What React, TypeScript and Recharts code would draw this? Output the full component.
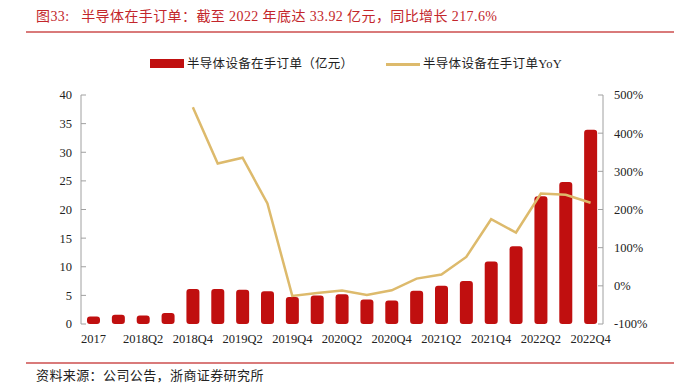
import React from 'react';
import { ComposedChart, Bar, Line, XAxis, YAxis } from 'recharts';

const quarters = [
  '2017', '2018Q1', '2018Q2', '2018Q3', '2018Q4', '2019Q1', '2019Q2', '2019Q3', '2019Q4',
  '2020Q1', '2020Q2', '2020Q3', '2020Q4', '2021Q1', '2021Q2', '2021Q3', '2021Q4',
  '2022Q1', '2022Q2', '2022Q3', '2022Q4',
];

// 半导体设备在手订单（亿元）
const orders = [
  1.3, 1.6, 1.5, 1.9, 6.1, 6.1, 6.0, 5.7, 4.7, 5.0, 5.2, 4.3, 4.1, 5.8, 6.7, 7.5, 10.9,
  13.6, 22.3, 24.8, 33.92,
];

// 同比 YoY (%)
const yoy = [
  null, null, null, null, 467.7, 320.7, 335.6, 215.8, -26.5, -18.6, -12.5, -23.9, -11.6,
  19.0, 29.5, 75.8, 174.6, 139.7, 242.0, 238.6, 217.6,
];

const leftTicks = [0, 5, 10, 15, 20, 25, 30, 35, 40];
const rightTicks = [-100, 0, 100, 200, 300, 400, 500];
const boundaryTicks = Array.from({ length: quarters.length + 1 }, (_, i) => i);

const data = quarters.map((q, i) => ({ q, orders: orders[i], yoy: yoy[i] }));

const RED = '#C00F0F';
const GOLD = '#DDBA6C';
const AXIS = '#A0A0A0';
const FONT = '"Liberation Serif", "Noto Sans CJK SC", serif';
const tickStyle = { fill: '#222', fontSize: 12.5, fontFamily: FONT };

export default function App() {
  return (
    <div style={{ position: 'absolute', left: 0, top: 0, width: 680, height: 388, background: '#fff', fontFamily: FONT }}>
      <div style={{ position: 'absolute', left: 36, top: 8, fontSize: 14, letterSpacing: 0.4, lineHeight: '18px', color: '#C3262B', whiteSpace: 'nowrap' }}>
        图33:&nbsp;&nbsp; 半导体在手订单：截至 2022 年底达 33.92 亿元，同比增长 217.6%
      </div>
      <div style={{ position: 'absolute', left: 26, top: 31, width: 648, height: 2, background: '#D97A7A' }} />

      <div style={{ position: 'absolute', left: 150, top: 59, width: 34, height: 9, background: RED }} />
      <div style={{ position: 'absolute', left: 187, top: 55, fontSize: 12.5, letterSpacing: 0.3, lineHeight: '18px', color: '#222', whiteSpace: 'nowrap' }}>
        半导体设备在手订单（亿元）
      </div>
      <div style={{ position: 'absolute', left: 386, top: 63, width: 34, height: 3, background: GOLD }} />
      <div style={{ position: 'absolute', left: 423, top: 55, fontSize: 12.5, letterSpacing: 0.3, lineHeight: '18px', color: '#222', whiteSpace: 'nowrap' }}>
        半导体设备在手订单YoY
      </div>

      <ComposedChart width={680} height={388} data={data} margin={{ top: 95, right: 0, left: 0, bottom: 34 }} barSize={13}>
        <XAxis
          xAxisId="edge"
          type="number"
          domain={[0, quarters.length]}
          ticks={boundaryTicks}
          height={0}
          tick={false}
          tickSize={-4}
          stroke={AXIS}
          allowDataOverflow
        />
        <XAxis
          xAxisId="cat"
          dataKey="q"
          height={30}
          interval={1}
          axisLine={false}
          tickLine={false}
          tickSize={0}
          tickMargin={10}
          tick={tickStyle}
        />
        <YAxis
          yAxisId="left"
          width={81}
          domain={[0, 40]}
          ticks={leftTicks}
          stroke={AXIS}
          tickSize={-5}
          tickMargin={14}
          tick={tickStyle}
        />
        <YAxis
          yAxisId="right"
          orientation="right"
          width={77}
          domain={[-100, 500]}
          ticks={rightTicks}
          tickFormatter={(v: number) => `${v}%`}
          stroke={AXIS}
          tickSize={-5}
          tickMargin={16}
          tick={tickStyle}
        />
        <Bar xAxisId="cat" yAxisId="left" dataKey="orders" fill={RED} radius={3} isAnimationActive={false} />
        <Line
          xAxisId="cat"
          yAxisId="right"
          type="linear"
          dataKey="yoy"
          stroke={GOLD}
          strokeWidth={2.5}
          dot={false}
          activeDot={false}
          isAnimationActive={false}
        />
      </ComposedChart>

      <div style={{ position: 'absolute', left: 26, top: 362, width: 648, height: 2, background: '#D97A7A' }} />
      <div style={{ position: 'absolute', left: 36, top: 367, fontSize: 13, letterSpacing: 0.4, lineHeight: '18px', color: '#222', whiteSpace: 'nowrap' }}>
        资料来源：公司公告，浙商证券研究所
      </div>
    </div>
  );
}
